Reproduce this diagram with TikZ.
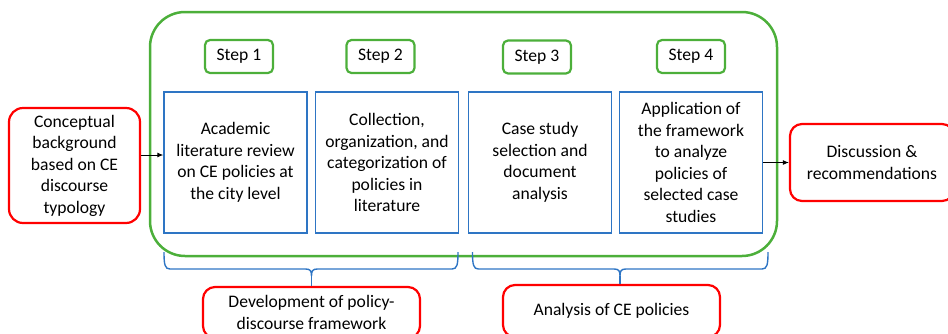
\documentclass[tikz,border=0pt]{standalone}
\usepackage{fontspec}
\setmainfont{Carlito}
\usetikzlibrary{arrows.meta}
\definecolor{gr}{RGB}{76,175,58}
\definecolor{bl}{RGB}{46,117,196}
\definecolor{rd}{RGB}{255,0,0}
\begin{document}
\begin{tikzpicture}[x=1pt,y=-1pt,
  every node/.style={font=\fontsize{17.6}{21.5}\selectfont, align=center, inner sep=0pt},
  stepbox/.style={draw=gr, line width=2.2pt, rounded corners=5pt, minimum width=68pt, minimum height=33pt},
  taskbox/.style={draw=bl, line width=1.4pt, minimum width=143pt, minimum height=141pt},
  redbox/.style={draw=rd, line width=2.2pt, rounded corners=14pt},
  arr/.style={-{Latex[length=6pt,width=5pt]}, line width=0.9pt},
  brc/.style={draw=bl, line width=1.4pt}]
\clip (0,0) rectangle (948,333);
\node (frame) [draw=gr, line width=2.5pt, rounded corners=35pt, minimum width=627pt, minimum height=244pt] at (463.5,134) {};
\node (s1) [stepbox] at (239,56.5) {Step 1};
\node (s2) [stepbox] at (380.5,56.5) {Step 2};
\node (s3) [stepbox] at (537,57) {Step 3};
\node (s4) [stepbox] at (691,56.5) {Step 4};
\node (b1) [taskbox] at (235.5,162.5) {Academic\\literature review\\on CE policies at\\the city level};
\node (b2) [taskbox] at (387,162.5) {Collection,\\organization, and\\categorization of\\policies in\\literature};
\node (b3) [taskbox] at (540,162.5) {Case study\\selection and\\document\\analysis};
\node (b4) [taskbox] at (691,162.5) {Application of\\the framework\\to analyze\\policies of\\selected case\\studies};
\node (cb) [redbox, minimum width=131pt, minimum height=115pt] at (74.5,165.5) {Conceptual\\background\\based on CE\\discourse\\typology};
\node (dr) [redbox, rounded corners=12pt, minimum width=164pt, minimum height=77pt] at (872,162.5) {Discussion \&\\recommendations};
\node (dev) [redbox, rounded corners=12pt, minimum width=217pt, minimum height=51pt] at (311.5,312.5) {Development of policy-\\discourse framework};
\node (ana) [redbox, rounded corners=12pt, minimum width=217pt, minimum height=52pt] at (611.5,311) {Analysis of CE policies};
\coordinate (ay) at (0,155);
\draw[arr] (cb.east |- ay) -- (b1.west |- ay);
\draw[arr] (b4.east) -- (dr.west);
% left brace
\coordinate (lt) at (311.5,276);
\draw[brc] (164,252) .. controls (164,265) and (165,269) .. (170,269) -- (305.5,269)
  .. controls (310.5,269) and (311.5,271) .. (lt)
  .. controls (311.5,271) and (312.5,269) .. (317.5,269) -- (452,269)
  .. controls (457,269) and (458,265) .. (458,252);
\draw[brc] (lt) -- (dev.north -| lt);
% right brace
\coordinate (rt) at (620,276);
\draw[brc] (472.5,252) .. controls (472.5,265) and (473.5,269) .. (478.5,269) -- (614,269)
  .. controls (619,269) and (620,271) .. (rt)
  .. controls (620,271) and (621,269) .. (626,269) -- (762,269)
  .. controls (767,269) and (768,265) .. (768,252);
\draw[brc] (rt) -- (ana.north -| rt);
\end{tikzpicture}
\end{document}
